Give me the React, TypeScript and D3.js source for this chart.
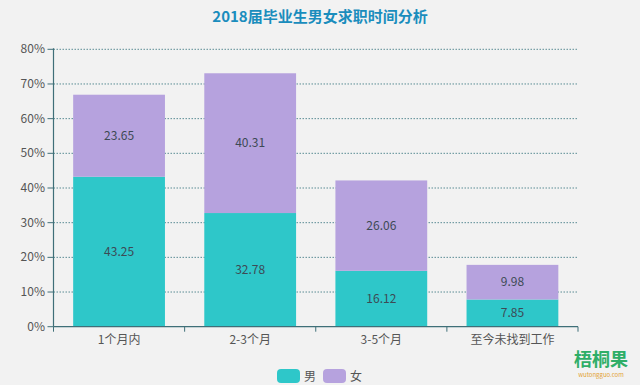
import React from 'react';
import * as d3 from 'd3';

const categories = ['1个月内', '2-3个月', '3-5个月', '至今未找到工作'];
const male = [43.25, 32.78, 16.12, 7.85];
const female = [23.65, 40.31, 26.06, 9.98];
const yTicks = [0, 10, 20, 30, 40, 50, 60, 70, 80];
const seriesNames = ['男', '女'];
const colors = ['#2ec7c9', '#b6a2de'];

const W = 640;
const H = 385;
const font = '"Noto Sans CJK SC", "Noto Sans", sans-serif';

const App = () => {
  const x = d3.scaleBand<string>().domain(categories).range([53.5, 578]).paddingInner(0.3).paddingOuter(0.15);
  const step = x.step();
  const y = d3.scaleLinear().domain([0, 80]).range([326.7, 49.3]);

  const stacked = d3.stack<any>().keys(['m', 'f'])(
    categories.map((c, i) => ({ c, m: male[i], f: female[i] }))
  );
  const raw = [male, female];

  const axisColor = '#3f6f78';
  const x0 = x.range()[0];
  const x1 = x.range()[1];
  const boundaries = d3.range(categories.length + 1).map(i => x0 + i * step);

  return (
    <svg width={W} height={H} style={{ position: 'absolute', left: 0, top: 0, background: '#f2f2f2', fontFamily: font }}>
      <rect width={W} height={H} fill="#f2f2f2" />
      <text x={320} y={22} textAnchor="middle" fontSize={15} fontWeight="bold" fill="#1a8dbd">
        2018届毕业生男女求职时间分析
      </text>

      {/* grid */}
      {yTicks.filter(t => t > 0).map(t => (
        <line key={t} x1={x0} x2={x1} y1={y(t)} y2={y(t)} stroke="#5a8c94" strokeWidth={1} strokeDasharray="1.5 1.5" />
      ))}

      {/* bars */}
      {stacked.map((s, si) => (
        <g key={si}>
          {s.map((d, i) => {
            const bx = x(categories[i])!;
            const top = y(d[1]);
            const bot = y(d[0]);
            return (
              <g key={i}>
                <rect x={bx} y={top} width={x.bandwidth()} height={bot - top} fill={colors[si]} />
                <text x={bx + x.bandwidth() / 2} y={(top + bot) / 2 + 4} textAnchor="middle" fontSize={12} fill="#3d4a55">
                  {raw[si][i]}
                </text>
              </g>
            );
          })}
        </g>
      ))}

      {/* y axis */}
      <line x1={x0} x2={x0} y1={y(80) - 1} y2={y(0)} stroke={axisColor} strokeWidth={1.2} />
      {yTicks.map(t => (
        <g key={t}>
          <line x1={x0 - 6} x2={x0} y1={y(t)} y2={y(t)} stroke={axisColor} />
          <text x={45} y={y(t) + 4} textAnchor="end" fontSize={12} fill="#555">{t}%</text>
        </g>
      ))}

      {/* x axis */}
      <line x1={x0} x2={x1} y1={y(0)} y2={y(0)} stroke={axisColor} strokeWidth={1.2} />
      {boundaries.map((b, i) => (
        <line key={i} x1={b} x2={b} y1={y(0)} y2={y(0) + 5} stroke={axisColor} />
      ))}
      {categories.map(c => (
        <text key={c} x={x(c)! + x.bandwidth() / 2} y={344} textAnchor="middle" fontSize={12} fill="#555">{c}</text>
      ))}

      {/* legend */}
      {seriesNames.map((n, i) => (
        <g key={n} transform={`translate(${277 + i * 46},369)`}>
          <rect width={23} height={14} rx={4} fill={colors[i]} />
          <text x={27} y={12} fontSize={12} fill="#555">{n}</text>
        </g>
      ))}

      {/* watermark */}
      <text x={601} y={366} textAnchor="middle" fontSize={18} fontWeight="bold" fill="#2fae67">梧桐果</text>
      <text x={601} y={377} textAnchor="middle" fontSize={6} fill="#e3a338">wutongguo.com</text>
    </svg>
  );
};

export default App;
